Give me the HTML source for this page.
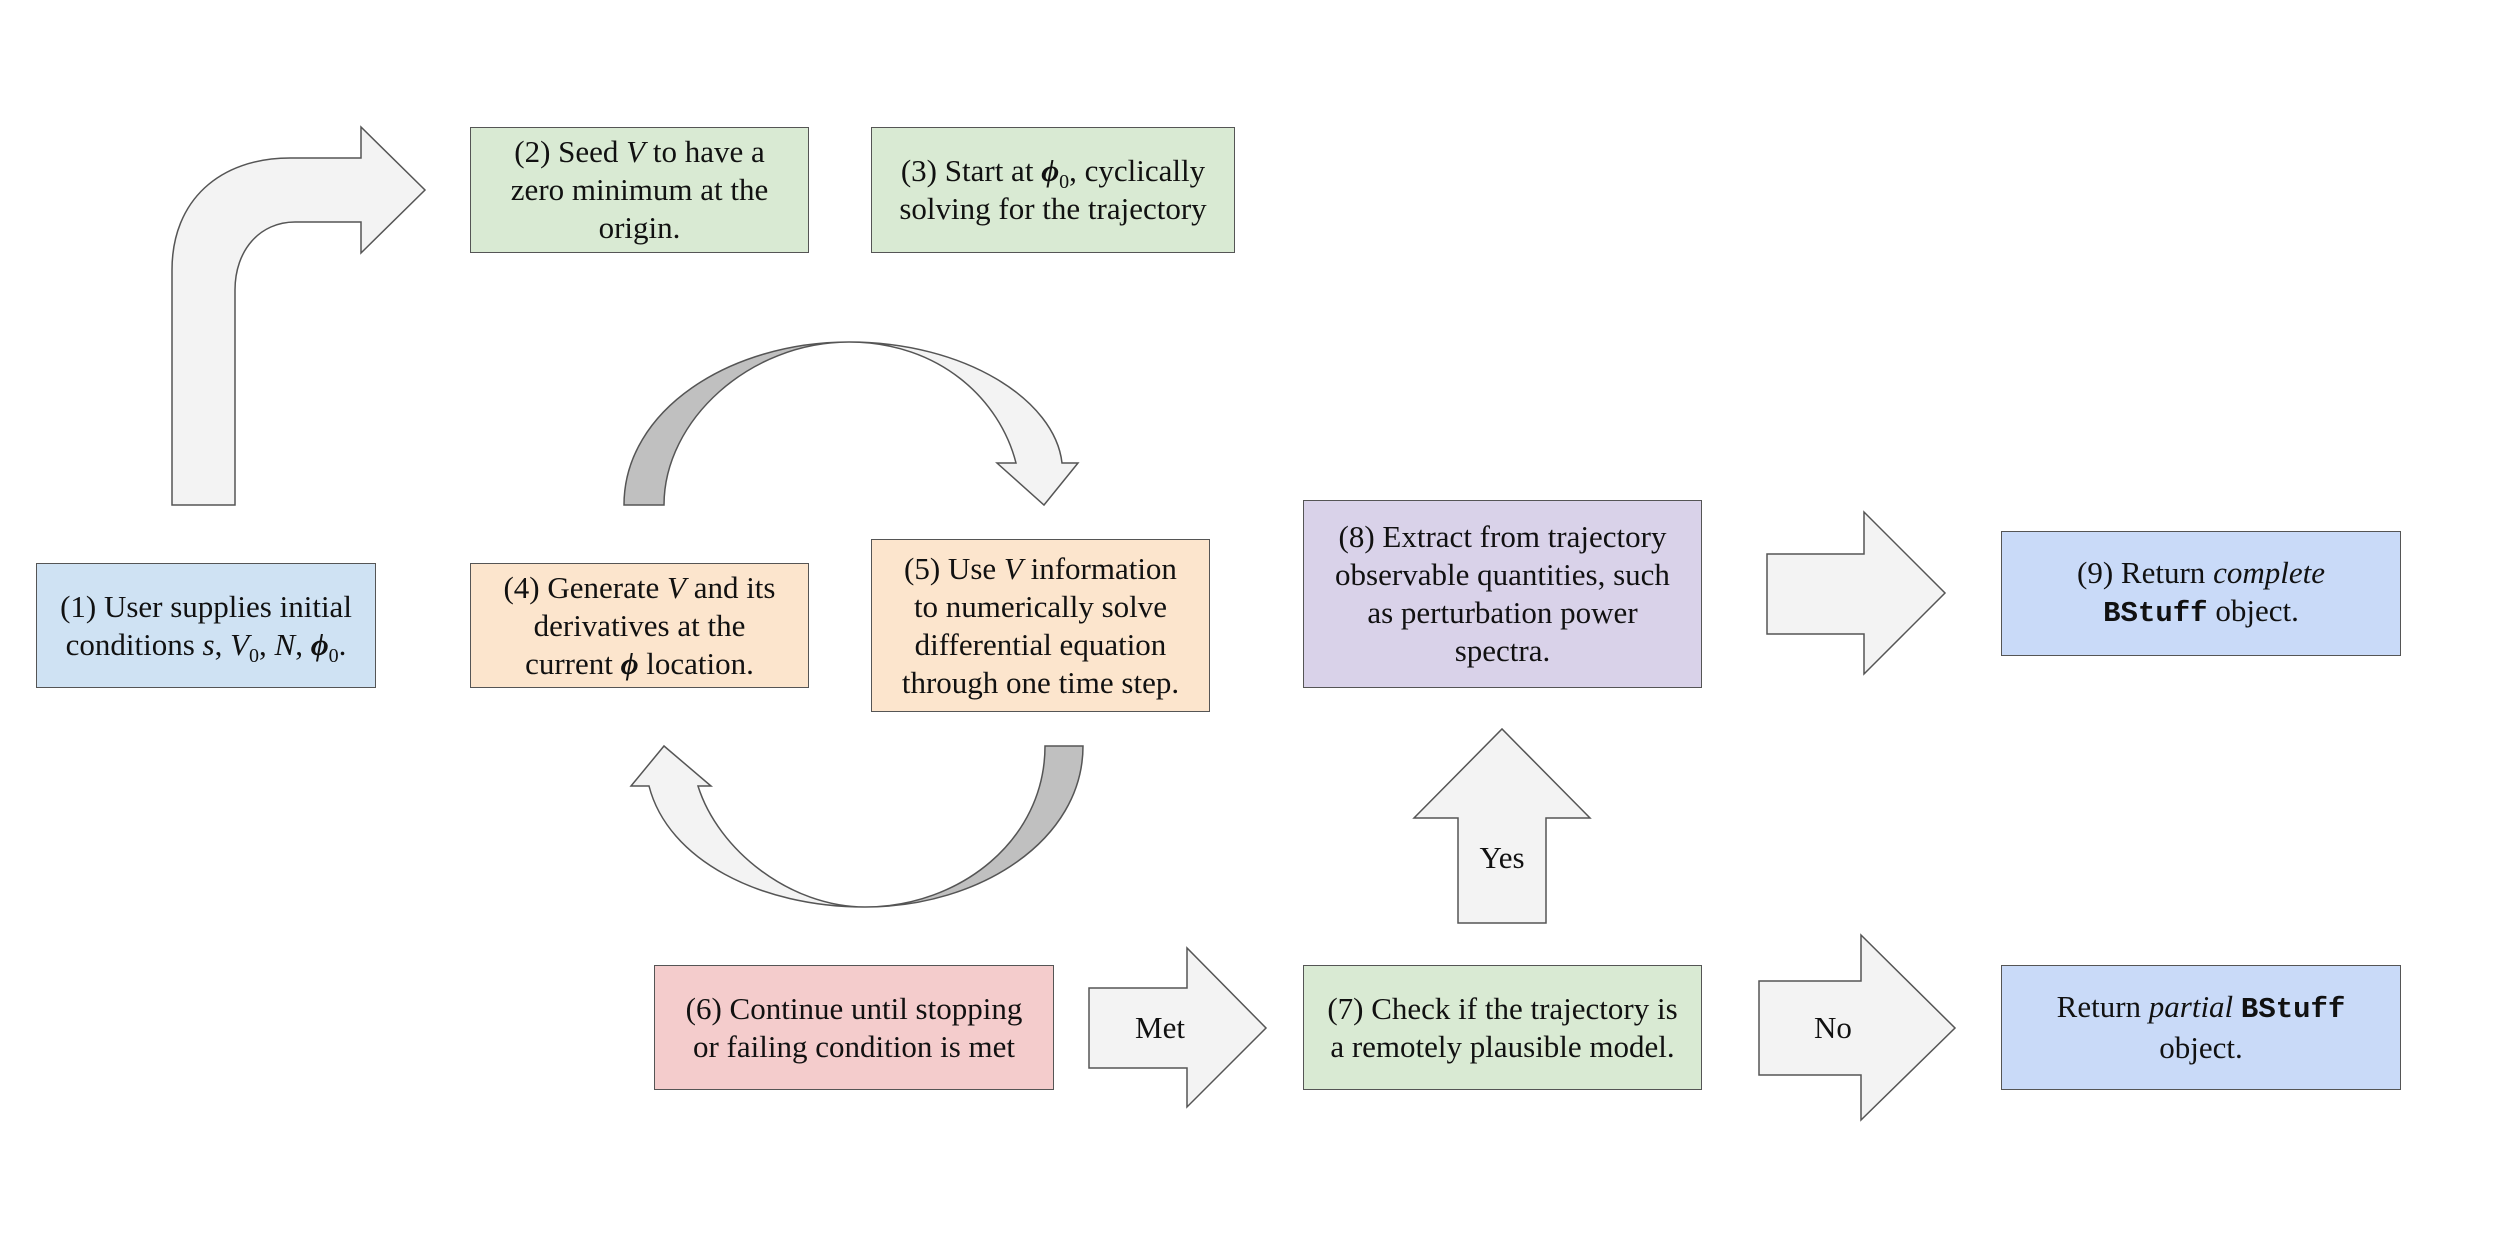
<!DOCTYPE html>
<html><head><meta charset="utf-8"><style>
html,body{margin:0;padding:0;background:#fff;}
body{width:2500px;height:1250px;position:relative;overflow:hidden;font-family:"Liberation Serif","DejaVu Serif",serif;color:#111;}
.b{position:absolute;box-sizing:border-box;border:1.5px solid #555;display:flex;align-items:center;justify-content:center;text-align:center;font-size:31px;line-height:38px;}
.b>div{display:block;}
.m{font-family:"Liberation Mono",monospace;font-weight:bold;font-size:29px;}
.p{font-weight:bold;font-style:italic;}
sub{font-size:20px;line-height:0;}
svg{position:absolute;left:0;top:0;}
.lbl{position:absolute;font-size:31px;text-align:center;}
</style></head><body>
<svg width="2500" height="1250" viewBox="0 0 2500 1250">
<g stroke="#555" stroke-width="1.5" stroke-linejoin="miter">
<path d="M172,505 L172,270 C172,200 220,158 290,158 L361,158 L361,127 L425,190 L361,253 L361,222 L295,222 C260,222 235,250 235,290 L235,505 Z" fill="#f3f3f3"/>
<path d="M624,505 C624,410 730,342 849,342 C750,342 664,420 664,505 Z" fill="#c0c0c0"/>
<path d="M849,342 C965,342 1055,400 1062,463 L1078,463 L1044,505 L997,463 L1016,463 C1000,400 940,342 849,342 Z" fill="#f3f3f3"/>
<path d="M1083,746 C1083,840 980,907 865,907 C960,907 1045,840 1045,746 Z" fill="#c0c0c0"/>
<path d="M865,907 C760,907 668,860 649,786 L631,786 L664,746 L711,786 L698,786 C718,850 790,907 865,907 Z" fill="#f3f3f3"/>
<path d="M1767,554 L1864,554 L1864,512 L1945,593 L1864,674 L1864,634 L1767,634 Z" fill="#f3f3f3"/>
<path d="M1458,923 L1458,818 L1414,818 L1502,729 L1590,818 L1546,818 L1546,923 Z" fill="#f3f3f3"/>
<path d="M1089,988 L1187,988 L1187,948 L1266,1028 L1187,1107 L1187,1068 L1089,1068 Z" fill="#f3f3f3"/>
<path d="M1759,981 L1861,981 L1861,935 L1955,1028 L1861,1120 L1861,1075 L1759,1075 Z" fill="#f3f3f3"/>
</g>
</svg>
<div class="lbl" style="left:1458px;width:88px;top:840px;">Yes</div>
<div class="lbl" style="left:1110px;width:100px;top:1010px;">Met</div>
<div class="lbl" style="left:1783px;width:100px;top:1010px;">No</div>

<div class="b" style="left:36px;top:563px;width:340px;height:125px;background:#cfe2f3;"><div>(1) User supplies initial<br>conditions <i>s</i>, <i>V</i><sub>0</sub>, <i>N</i>, <span class="p">ϕ</span><sub>0</sub>.</div></div>
<div class="b" style="left:470px;top:127px;width:339px;height:126px;background:#d9ead3;"><div>(2) Seed <i>V</i> to have a<br>zero minimum at the<br>origin.</div></div>
<div class="b" style="left:871px;top:127px;width:364px;height:126px;background:#d9ead3;"><div>(3) Start at <span class="p">ϕ</span><sub>0</sub>, cyclically<br>solving for the trajectory</div></div>
<div class="b" style="left:470px;top:563px;width:339px;height:125px;background:#fce5cd;"><div>(4) Generate <i>V</i> and its<br>derivatives at the<br>current <span class="p">ϕ</span> location.</div></div>
<div class="b" style="left:871px;top:539px;width:339px;height:173px;background:#fce5cd;"><div>(5) Use <i>V</i> information<br>to numerically solve<br>differential equation<br>through one time step.</div></div>
<div class="b" style="left:1303px;top:500px;width:399px;height:188px;background:#d9d2e9;"><div>(8) Extract from trajectory<br>observable quantities, such<br>as perturbation power<br>spectra.</div></div>
<div class="b" style="left:2001px;top:531px;width:400px;height:125px;background:#c9daf8;"><div>(9) Return <i>complete</i><br><span class="m">BStuff</span> object.</div></div>
<div class="b" style="left:654px;top:965px;width:400px;height:125px;background:#f4cccc;"><div>(6) Continue until stopping<br>or failing condition is met</div></div>
<div class="b" style="left:1303px;top:965px;width:399px;height:125px;background:#d9ead3;"><div>(7) Check if the trajectory is<br>a remotely plausible model.</div></div>
<div class="b" style="left:2001px;top:965px;width:400px;height:125px;background:#c9daf8;"><div>Return <i>partial</i> <span class="m">BStuff</span><br>object.</div></div>
</body></html>
